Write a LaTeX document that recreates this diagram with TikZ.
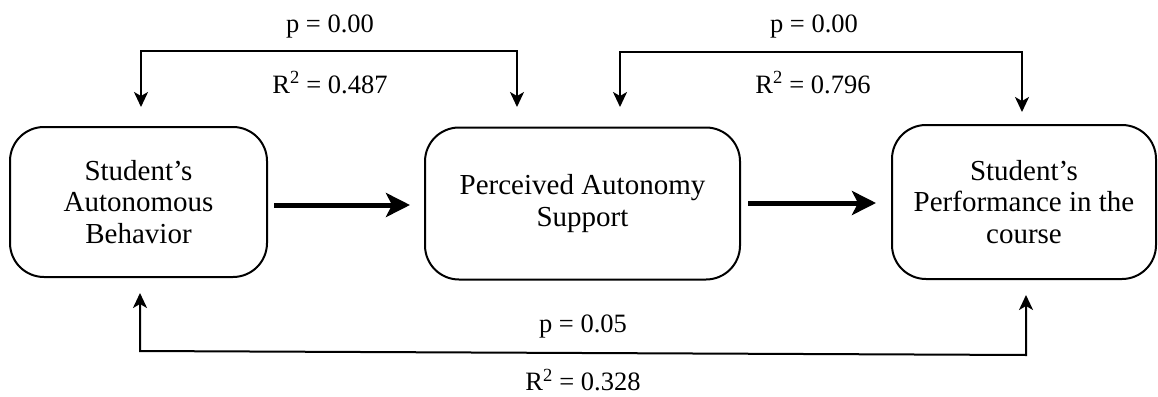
\documentclass[tikz,border=0pt]{standalone}
\usepackage{fontspec}
\setmainfont{Liberation Serif}
\usetikzlibrary{arrows.meta,calc}
\begin{document}
\begin{tikzpicture}[x=1pt,y=-1pt,
  box/.style={draw, line width=2pt, rounded corners=34pt, align=center, inner sep=0pt,
    font=\fontsize{29}{31.5}\selectfont},
  lab/.style={font=\fontsize{26.5}{30}\selectfont, inner sep=0pt, anchor=base},
  thinarr/.style={line width=2pt, {Stealth[length=15pt,width=14pt,inset=4pt]}-{Stealth[length=15pt,width=14pt,inset=4pt]}},
  thickarr/.style={line width=5pt, -{Stealth[length=24pt,width=24pt,inset=6pt]}}]
\useasboundingbox (0,0) rectangle (1158,396);
\node[box, minimum width=257pt, minimum height=150pt] (b1) at (138.5,202) {Student’s\\Autonomous\\Behavior};
\node[box, minimum width=315pt, minimum height=152pt] (b2) at (582.5,203.5) {Perceived Autonomy\\Support};
\node[box, minimum width=264pt, minimum height=154pt] (b3) at (1024,202) {Student’s\\Performance in the\\course};
\draw[thickarr] ([shift={(6,3)}]b1.east) -- ([shift={(-14,1.5)}]b2.west);
\draw[thickarr] ([shift={(7,-0.5)}]b2.east) -- ([shift={(-15,1)}]b3.west);
\draw[thinarr] ([shift={(2.5,-19)}]b1.north) -- ++(0,-56) -| ([shift={(-65.5,-19.5)}]b2.north);
\draw[thinarr] ([shift={(37.5,-19.5)}]b2.north) -- ++(0,-55) -| ([shift={(-2,-12)}]b3.north);
\draw[thinarr] ([shift={(1.5,15)}]b1.south) coordinate (l1) -- ++(0,58) coordinate (l2)
  -- ([shift={(2,75)}]b3.south) -- ([shift={(2,15)}]b3.south);
\node[lab] (p1) at (330,33) {p = 0.00};
\node[lab] (r1) at (330,93) {R\textsuperscript{2} = 0.487};
\node[lab] (p2) at (814,33) {p = 0.00};
\node[lab] (r2) at (813,93) {R\textsuperscript{2} = 0.796};
\node[lab] (p3) at (583,332) {p = 0.05};
\node[lab] (r3) at (583,390.5) {R\textsuperscript{2} = 0.328};
\end{tikzpicture}
\end{document}
